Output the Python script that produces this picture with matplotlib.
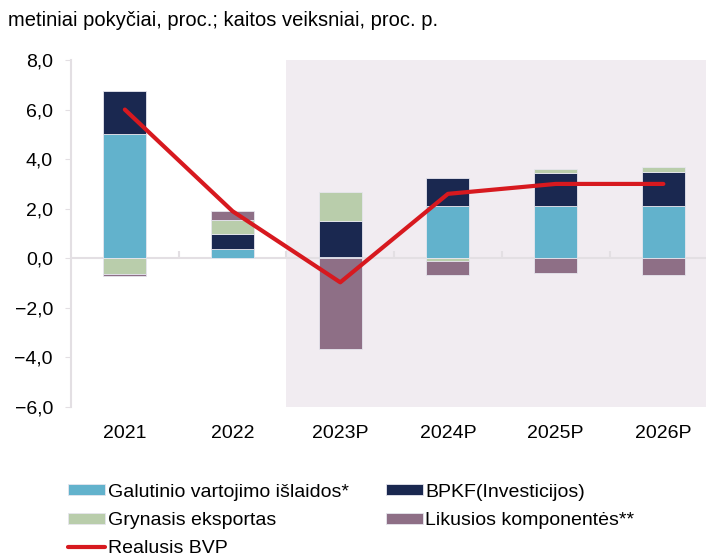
import numpy as np
import matplotlib.pyplot as plt

plt.rcParams['font.family'] = ['Liberation Sans', 'DejaVu Sans']

# ---- data ----
years = ["2021", "2022", "2023P", "2024P", "2025P", "2026P"]
vartojimas = [5.0, 0.36, 0.07, 2.12, 2.12, 2.12]
investicijos = [1.75, 0.6, 1.43, 1.1, 1.33, 1.38]
eksportas = [-0.62, 0.58, 1.17, -0.1, 0.15, 0.2]
likusios = [-0.1, 0.37, -3.65, -0.56, -0.6, -0.66]
bvp = [6.0, 1.9, -0.97, 2.6, 3.0, 3.0]

series = [
    ("Galutinio vartojimo išlaidos*", vartojimas, "#62b2cc"),
    ("BPKF(Investicijos)", investicijos, "#1a2850"),
    ("Grynasis eksportas", eksportas, "#b9cdab"),
    ("Likusios komponentės**", likusios, "#8e6f86"),
]

x = np.arange(len(years))

fig = plt.figure(figsize=(7.06, 5.57), dpi=100)
ax = fig.add_axes([71 / 706, 1 - 407 / 557, 1 - 71 / 706, 347 / 557])

# forecast shading
ax.axvspan(1.5, 6, color="#f1ecf1", zorder=0, lw=0)

pos_bottom = np.zeros(len(x))
neg_bottom = np.zeros(len(x))
handles = {}
for name, vals, col in series:
    vals = np.array(vals)
    bottom = np.where(vals >= 0, pos_bottom, neg_bottom)
    b = ax.bar(x, vals, width=0.4, bottom=bottom, color=col, edgecolor="#e6e6ee",
               linewidth=0.6, label=name, zorder=2)
    handles[name] = b
    pos_bottom += np.where(vals >= 0, vals, 0)
    neg_bottom += np.where(vals < 0, vals, 0)

line, = ax.plot(x, bvp, color="#d7191f", lw=3, label="Realusis BVP", zorder=4,
                solid_capstyle="round")

# zero line with small category separators
ax.axhline(0, color="#e3dfe3", lw=1.5, zorder=1)
ax.vlines(np.arange(0.5, 5.6, 1), 0, 0.28, color="#e3dfe3", lw=1.5, zorder=1)

ax.set_xlim(-0.5, -0.5 + 635 / 107.7)
ax.set_ylim(-6, 8)
ax.set_yticks(np.arange(-6, 8.1, 2))
ax.set_yticklabels([f"{v:.1f}".replace(".", ",").replace("-", "\u2212") for v in np.arange(-6, 8.1, 2)])
ax.set_xticks(x)
ax.set_xticklabels(years)
ax.tick_params(axis="x", length=0, pad=13, labelsize=14)
ax.tick_params(axis="y", length=4, color="#e3dfe3", pad=9, labelsize=14)

for s in ["top", "right", "bottom"]:
    ax.spines[s].set_visible(False)
ax.spines["left"].set_color("#e3dfe3")
ax.spines["left"].set_linewidth(1.5)

fig.text(8 / 706, 1 - 20 / 557, "metiniai pokyčiai, proc.; kaitos veiksniai, proc. p.",
         fontsize=14.5, va="center", ha="left")

order = [handles[series[0][0]], handles[series[2][0]], line,
         handles[series[1][0]], handles[series[3][0]]]
fig.legend(order, [h.get_label() for h in order], ncol=2, loc="upper left",
           bbox_to_anchor=(60 / 706, 1 - 476 / 557), frameon=False, fontsize=14,
           borderaxespad=0, handlelength=1.9, handleheight=0.5, handletextpad=0.15,
           columnspacing=1.9, labelspacing=0.58)

fig.savefig("out.png", dpi=100)
